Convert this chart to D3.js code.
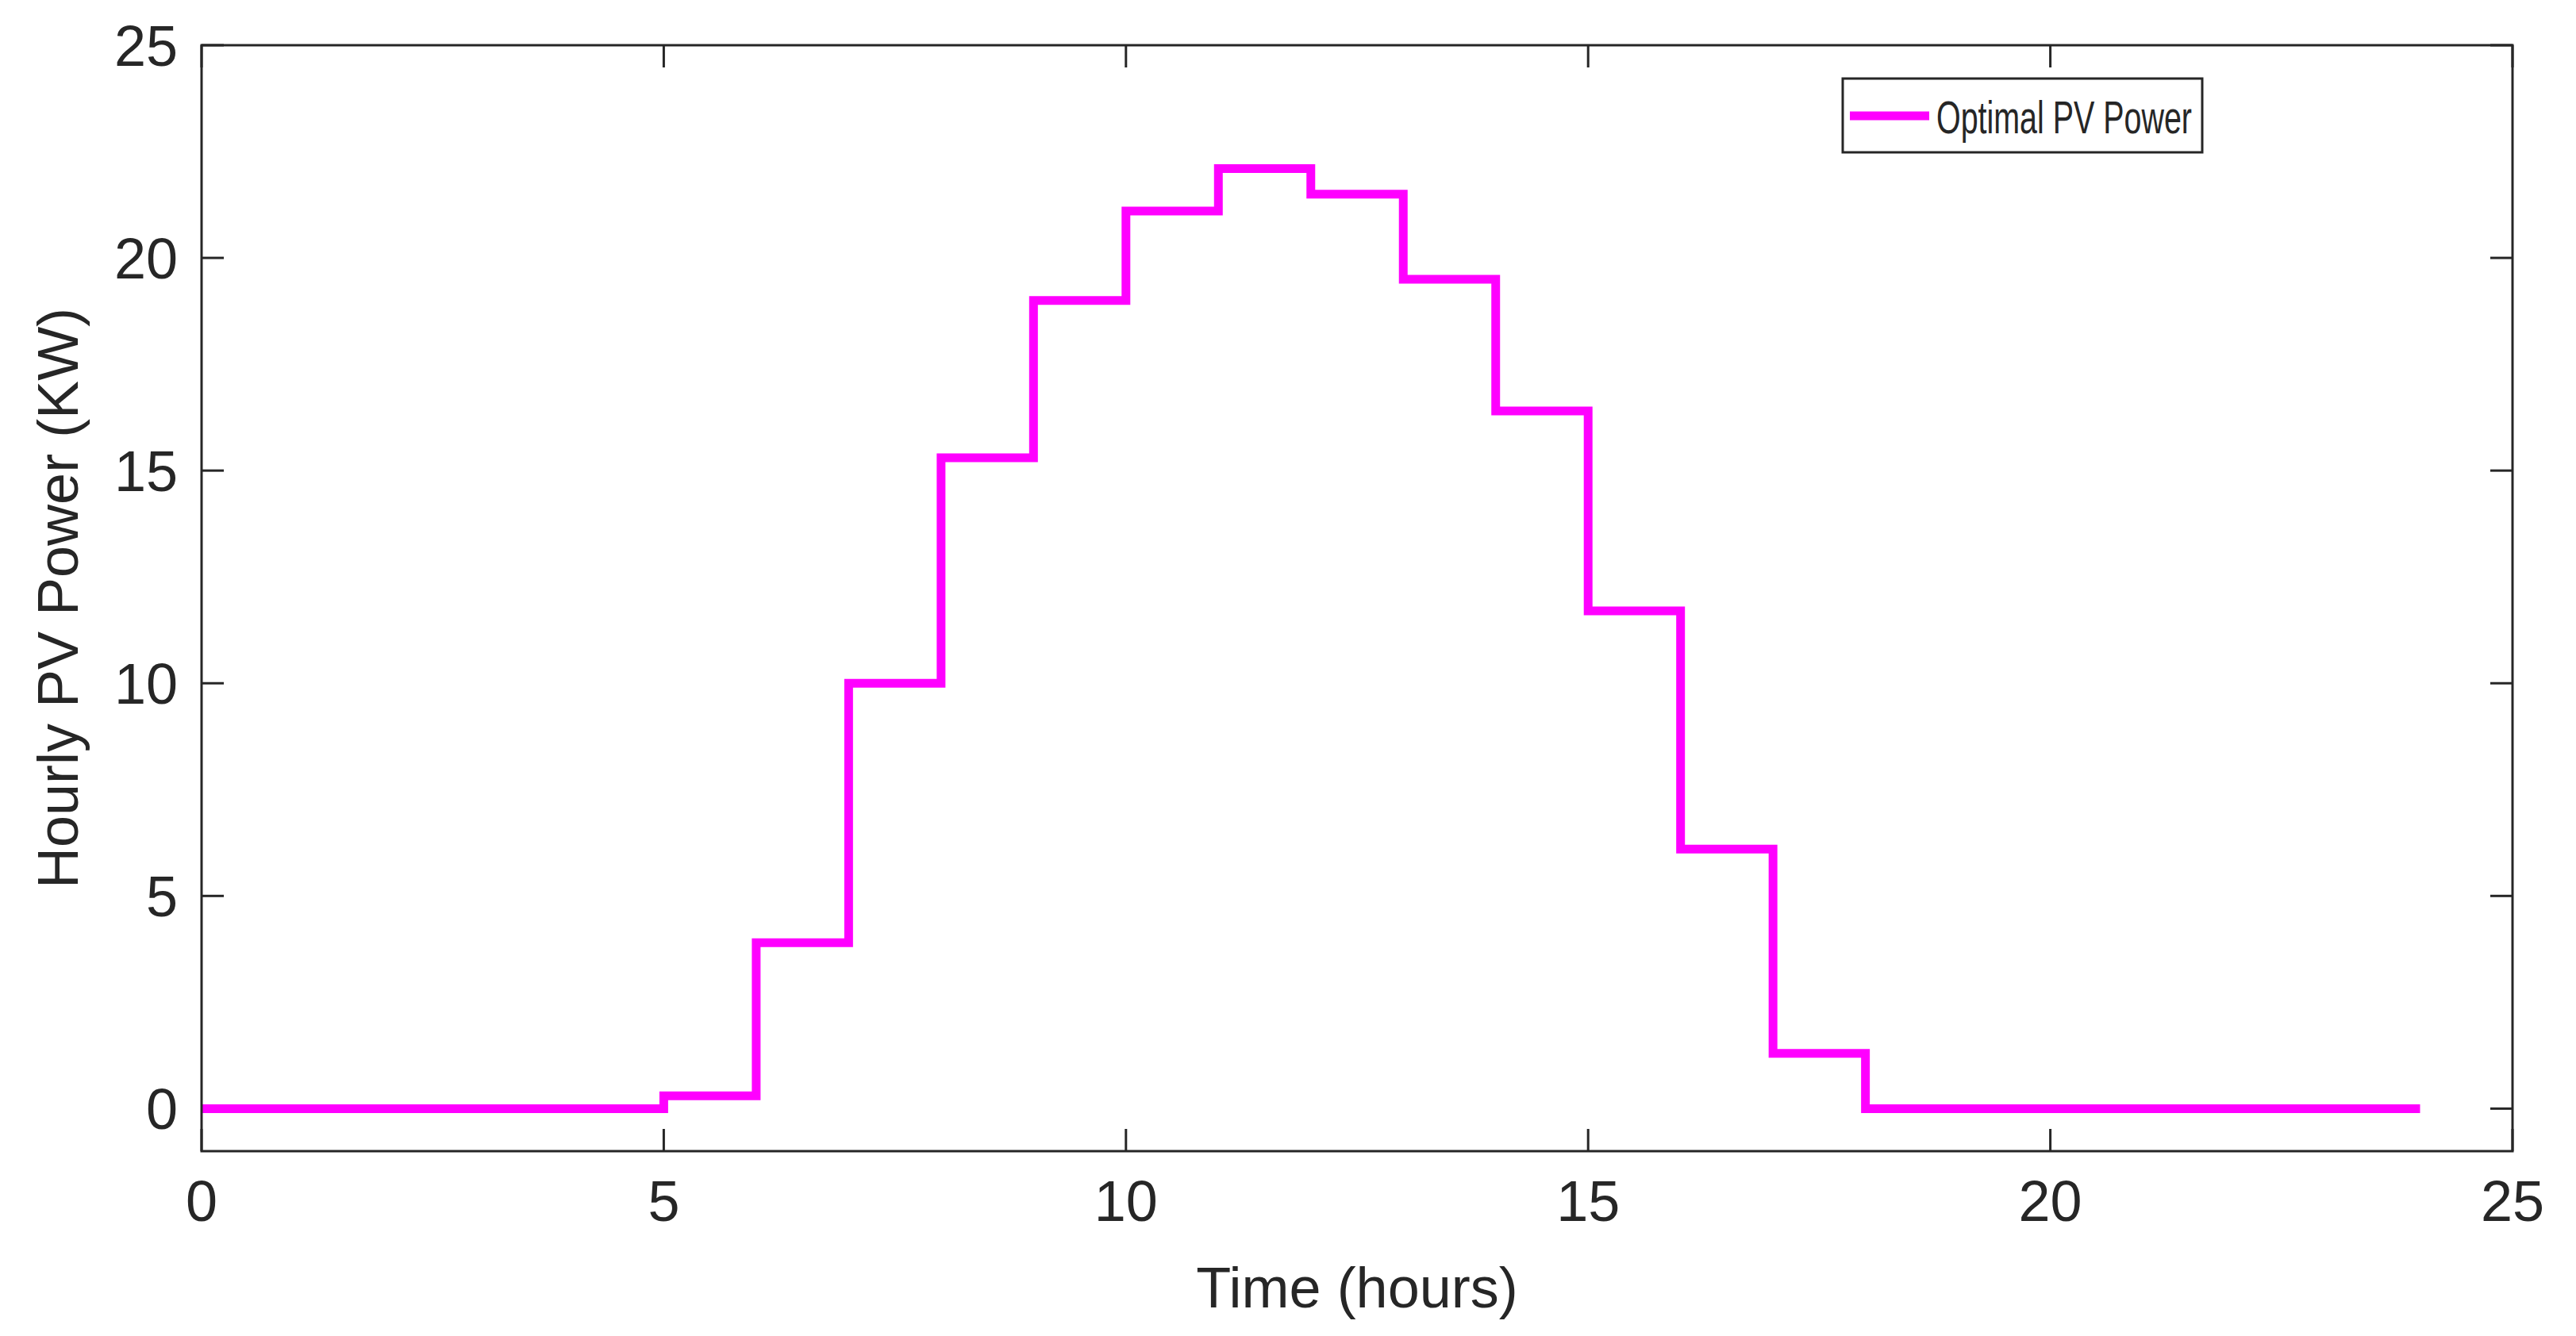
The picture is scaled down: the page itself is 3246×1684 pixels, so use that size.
<!DOCTYPE html>
<meta charset="utf-8">
<style>
 body { margin: 0; background: #fff; }
 text { font-family: "Liberation Sans", Arial, sans-serif; fill: #262626; }
 .frame { fill: none; stroke: #262626; stroke-width: 3px; }
 .pv { fill: none; stroke: #ff00ff; stroke-width: 11px; }
</style>
<svg class="chart"></svg>
<script src="https://cdn.jsdelivr.net/npm/d3@7"></script>
<script>
 var hours = [0,1,2,3,4,5,6,7,8,9,10,11,12,13,14,15,16,17,18,19,20,21,22,23,24];
 var pvPower = [0,0,0,0,0,0.3,3.9,10,15.3,19,21.1,22.1,21.5,19.5,16.4,11.7,6.1,1.3,0,0,0,0,0,0,0];
 var xTicks = [0,5,10,15,20,25];
 var yTicks = [0,5,10,15,20,25];
 var seriesName = "Optimal PV Power";

 var W = 3246, H = 1684;
 var pLeft = 254, pTop = 57, pRight = 3166, pBottom = 1451;

 var svg = d3.select(".chart").attr("width", W).attr("height", H);

 var x = d3.scaleLinear().domain([0, 25]).range([pLeft, pRight]);
 var y = d3.scaleLinear().domain([-1, 25]).range([pBottom, pTop]);

 var tickLen = 28;
 var g = svg.append("g");

 // ticks, inward on all four sides
 xTicks.forEach(function(t) {
     g.append("line").attr("x1", x(t)).attr("x2", x(t)).attr("y1", pBottom).attr("y2", pBottom - tickLen)
      .attr("stroke", "#262626").attr("stroke-width", 3);
     g.append("line").attr("x1", x(t)).attr("x2", x(t)).attr("y1", pTop).attr("y2", pTop + tickLen)
      .attr("stroke", "#262626").attr("stroke-width", 3);
     g.append("text").attr("x", x(t)).attr("y", pBottom + 88).attr("text-anchor", "middle")
      .attr("font-size", 72).text(t);
 });
 yTicks.forEach(function(t) {
     g.append("line").attr("x1", pLeft).attr("x2", pLeft + tickLen).attr("y1", y(t)).attr("y2", y(t))
      .attr("stroke", "#262626").attr("stroke-width", 3);
     g.append("line").attr("x1", pRight).attr("x2", pRight - tickLen).attr("y1", y(t)).attr("y2", y(t))
      .attr("stroke", "#262626").attr("stroke-width", 3);
     g.append("text").attr("x", pLeft - 30).attr("y", y(t) + 26).attr("text-anchor", "end")
      .attr("font-size", 72).text(t);
 });

 var line = d3.line().x(function(d, i) { return x(hours[i]); })
                     .y(function(d) { return y(d); })
                     .curve(d3.curveStepAfter);
 svg.append("path").attr("class", "pv").attr("d", line(pvPower));

 svg.append("rect").attr("class", "frame").attr("x", pLeft).attr("y", pTop)
    .attr("width", pRight - pLeft).attr("height", pBottom - pTop);

 svg.append("text").attr("x", (pLeft + pRight) / 2).attr("y", 1648).attr("text-anchor", "middle")
    .attr("font-size", 72).text("Time (hours)");
 svg.append("text").attr("transform", "translate(98," + ((pTop + pBottom) / 2) + ") rotate(-90)")
    .attr("text-anchor", "middle").attr("font-size", 72).text("Hourly PV Power (KW)");

 // legend
 var lg = svg.append("g");
 lg.append("rect").attr("x", 2322).attr("y", 99).attr("width", 453).attr("height", 93)
   .attr("fill", "#fff").attr("stroke", "#262626").attr("stroke-width", 3);
 lg.append("line").attr("x1", 2331).attr("x2", 2431).attr("y1", 146).attr("y2", 146)
   .attr("stroke", "#ff00ff").attr("stroke-width", 11);
 lg.append("text").attr("x", 2440).attr("y", 168).attr("font-size", 58)
   .attr("textLength", 322).attr("lengthAdjust", "spacingAndGlyphs").text(seriesName);
</script>
